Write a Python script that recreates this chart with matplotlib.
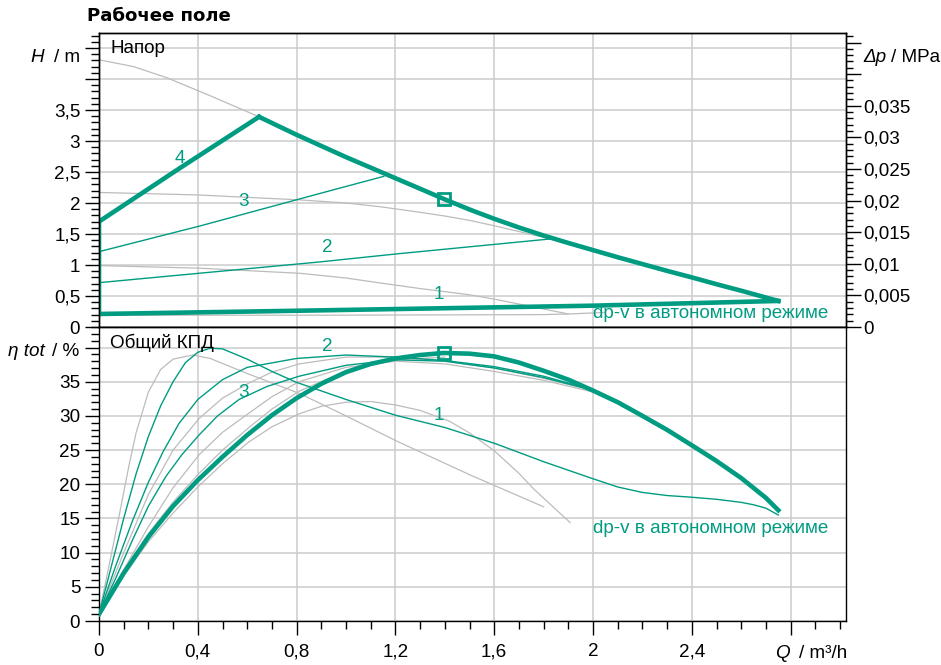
import matplotlib
matplotlib.use("Agg")
import matplotlib.pyplot as plt
from matplotlib.ticker import FixedLocator, MultipleLocator

plt.rcParams['font.family'] = ['Liberation Sans', 'DejaVu Sans']

GREEN = '#009c82'
GRAY = '#bcbcbc'
GRID = '#cccccc'
FS = 13.6

# ---- head chart (top) ----
q_max = [0, 0.14, 0.275, 0.45, 0.648, 0.8, 1.0, 1.2, 1.3, 1.396, 1.5, 1.6, 1.7, 1.8, 1.9,
         2.0, 2.1, 2.2, 2.3, 2.4, 2.5, 2.6, 2.7, 2.75]
h_max = [4.31, 4.2, 4.02, 3.73, 3.39, 3.10, 2.74, 2.40, 2.23, 2.065, 1.895, 1.745, 1.605, 1.475, 1.355,
         1.24, 1.125, 1.015, 0.905, 0.80, 0.69, 0.585, 0.475, 0.42]

q_mid = [0, 0.4, 0.814, 1.0, 1.138, 1.3, 1.4, 1.5, 1.603, 1.7, 1.826]
h_mid = [2.17, 2.13, 2.05, 2.0, 1.94, 1.85, 1.79, 1.72, 1.63, 1.54, 1.42]

q_low = [0, 0.4, 0.814, 1.0, 1.138, 1.3, 1.5, 1.6, 1.7, 1.8, 1.9]
h_low = [0.99, 0.95, 0.866, 0.79, 0.71, 0.62, 0.52, 0.45, 0.37, 0.29, 0.21]

q_min = [0, 0.9, 1.8, 1.9, 2.05]
h_min = [0.19, 0.19, 0.2, 0.21, 0.235]

q_line4 = [0, 0, 0.33, 0.648]
h_line4 = [0.21, 1.70, 2.57, 3.39]

q_line1 = [2.75, 2.0, 0.814, 0]
h_line1 = [0.42, 0.344, 0.263, 0.21]

q_line3 = [0, 0.409, 0.895, 1.153]
h_line3 = [1.215, 1.63, 2.155, 2.43]

q_line2 = [0, 0.895, 1.2, 1.826]
h_line2 = [0.715, 1.05, 1.177, 1.42]

duty_q, duty_h, duty_eta = 1.396, 2.06, 39.2

# ---- efficiency chart (bottom) ----
q_e4 = [0, 0.1, 0.2, 0.3, 0.4, 0.5, 0.6, 0.7, 0.8, 0.9, 1.0, 1.1, 1.2, 1.3, 1.394,
        1.5, 1.6, 1.7, 1.8, 1.9, 2.0, 2.1, 2.2, 2.3, 2.4, 2.5, 2.6, 2.7, 2.75]
e_e4 = [1.0, 7.0, 12.3, 16.8, 20.6, 24.0, 27.2, 30.1, 32.6, 34.7, 36.4, 37.6, 38.4, 38.9, 39.2,
        39.1, 38.7, 37.8, 36.6, 35.3, 33.7, 32.0, 30.0, 27.95, 25.7, 23.4, 20.9, 18.0, 16.2]

q_e1 = [0, 0.05, 0.1, 0.15, 0.2, 0.25, 0.3, 0.35, 0.4, 0.45, 0.5, 0.6, 0.7, 0.8, 1.0,
        1.2, 1.4, 1.6, 1.8, 2.0, 2.1, 2.2, 2.3, 2.4, 2.5, 2.6, 2.65, 2.7, 2.75]
e_e1 = [1.0, 8, 15, 21.5, 27, 31.5, 35, 37.8, 39.3, 39.9, 39.8, 38.3, 36.5, 34.9, 32.4,
        30.1, 28.3, 26.0, 23.3, 20.8, 19.6, 18.8, 18.35, 18.1, 17.8, 17.35, 17.0, 16.5, 15.5]

q_e2 = [0, 0.067, 0.135, 0.2, 0.26, 0.324, 0.4, 0.5, 0.6, 0.8, 1.0, 1.2, 1.4, 1.6, 1.8, 1.95]
e_e2 = [1.0, 8.0, 14.6, 20.3, 24.8, 28.9, 32.4, 35.3, 37.1, 38.4, 38.9, 38.6, 38.1, 37.2, 35.8, 34.3]

q_e3 = [0, 0.067, 0.135, 0.2, 0.27, 0.335, 0.405, 0.48, 0.567, 0.68, 0.81, 1.0, 1.2, 1.4, 1.6, 1.8, 1.95]
e_e3 = [1.0, 6.2, 11.8, 16.8, 21.1, 24.3, 27.2, 30.0, 32.4, 34.3, 35.8, 37.4, 38.2, 38.0, 37.0, 35.6, 34.2]

q_g1 = [0, 0.04, 0.081, 0.12, 0.15, 0.2, 0.25, 0.3, 0.38, 0.45, 0.6, 0.81, 1.0, 1.2, 1.5, 1.8]
e_g1 = [1.0, 8, 15.3, 22.5, 27.5, 33.5, 36.8, 38.3, 38.9, 38.4, 36.2, 33.3, 30.0, 26.4, 21.4, 16.7]

q_g2 = [0, 0.1, 0.2, 0.3, 0.4, 0.5, 0.607, 0.7, 0.81, 0.9, 1.0, 1.1, 1.2, 1.3, 1.42,
        1.5, 1.6, 1.7, 1.76, 1.85, 1.907]
e_g2 = [1.0, 6.6, 11.6, 15.8, 19.6, 23.0, 26.2, 28.4, 30.3, 31.4, 32.0, 32.1, 31.6, 30.8, 29.2,
        27.5, 24.9, 21.6, 19.3, 16.3, 14.4]

q_g3 = [0, 0.1, 0.2, 0.3, 0.405, 0.5, 0.607, 0.7, 0.81, 1.0, 1.2, 1.4, 1.6, 1.8, 2.0]
e_g3 = [1.0, 10, 18.5, 25, 29.6, 32.6, 34.8, 36.4, 37.6, 38.6, 38.6, 38.0, 37.0, 35.5, 33.7]

q_g4 = [0, 0.1, 0.2, 0.3, 0.405, 0.5, 0.607, 0.7, 0.81, 1.0, 1.2, 1.4, 1.6, 1.8, 2.0]
e_g4 = [1.0, 7.5, 13.8, 19.5, 24.3, 27.6, 30.4, 32.8, 35.0, 37.1, 38.0, 37.6, 36.5, 35.2, 33.5]

q_g5 = [0, 0.1, 0.2, 0.3, 0.4, 0.5, 0.607, 0.7, 0.81, 1.0, 1.2, 1.4]
e_g5 = [1.0, 7.3, 12.8, 17.4, 21.4, 25.0, 28.3, 31.0, 33.6, 36.6, 38.2, 38.6]

x_ticks = [0, 0.4, 0.8, 1.2, 1.6, 2.0, 2.4, 2.8]
x_labels = ['0', '0,4', '0,8', '1,2', '1,6', '2', '2,4', '']
h_ticks = [0, 0.5, 1, 1.5, 2, 2.5, 3, 3.5, 4, 4.5]
h_labels = ['0', '0,5', '1', '1,5', '2', '2,5', '3', '3,5', '', '']
p_ticks = [0, 0.005, 0.01, 0.015, 0.02, 0.025, 0.03, 0.035, 0.04, 0.045]
p_labels = ['0', '0,005', '0,01', '0,015', '0,02', '0,025', '0,03', '0,035', '', '']
e_ticks = [0, 5, 10, 15, 20, 25, 30, 35, 40]
e_labels = ['0', '5', '10', '15', '20', '25', '30', '35', '']

W, H = 941, 665
fig = plt.figure(figsize=(W / 100, H / 100), dpi=100)

def px(x0, y0, x1, y1):
    return [x0 / W, 1 - y1 / H, (x1 - x0) / W, (y1 - y0) / H]

ax1 = fig.add_axes(px(99, 33, 846, 327))
ax2 = fig.add_axes(px(99, 327, 846, 621))

XMAX = 3.024
HMAX = 4.742
EMAX = 43.0

for ax in (ax1, ax2):
    ax.set_xlim(0, XMAX)
    ax.set_xticks(x_ticks)
    ax.grid(True, color=GRID, lw=1.1, zorder=0)
    ax.set_axisbelow(True)
    for s in ax.spines.values():
        s.set_linewidth(1.0)
    ax.tick_params(which='major', length=10, width=1.0, labelsize=FS)
    ax.tick_params(which='minor', length=6, width=1.0)

# top panel
ax1.set_ylim(0, HMAX)
ax1.set_yticks(h_ticks)
ax1.set_yticklabels(h_labels)
ax1.yaxis.set_minor_locator(MultipleLocator(0.1))
ax1.tick_params(axis='y', which='both', direction='out', pad=3.5)
ax1.tick_params(axis='x', which='both', length=0, labelbottom=False)

ax1.plot(q_max, h_max, color=GRAY, lw=0.9, zorder=2)
ax1.plot(q_mid, h_mid, color=GRAY, lw=0.9, zorder=2)
ax1.plot(q_low, h_low, color=GRAY, lw=0.9, zorder=2)
ax1.plot(q_min, h_min, color=GRAY, lw=0.9, zorder=2)
ax1.plot(q_line3, h_line3, color=GREEN, lw=1.0, zorder=3)
ax1.plot(q_line2, h_line2, color=GREEN, lw=1.0, zorder=3)
ax1.plot(q_line4, h_line4, color=GREEN, lw=3.3, zorder=4, solid_joinstyle='miter')
ax1.plot(q_max[4:], h_max[4:], color=GREEN, lw=3.3, zorder=4)
ax1.plot(q_line1, h_line1, color=GREEN, lw=3.3, zorder=4)
ax1.plot([duty_q], [duty_h], marker='s', ms=8, mfc='none', mec=GREEN, mew=2, zorder=5)

ax1.text(0.326, 2.72, '4', color=GREEN, fontsize=FS, ha='center', va='center')
ax1.text(0.587, 2.02, '3', color=GREEN, fontsize=FS, ha='center', va='center')
ax1.text(0.923, 1.28, '2', color=GREEN, fontsize=FS, ha='center', va='center')
ax1.text(1.377, 0.52, '1', color=GREEN, fontsize=FS, ha='center', va='center')
ax1.text(2.0, 0.22, 'dp-v в автономном режиме', color=GREEN, fontsize=FS, ha='left', va='center')
ax1.text(0.045, 4.5, 'Напор', fontsize=FS, ha='left', va='center')

axr = ax1.twinx()
axr.set_ylim(0, HMAX * 0.00980665)
axr.set_yticks(p_ticks)
axr.set_yticklabels(p_labels)
axr.yaxis.set_minor_locator(MultipleLocator(0.001))
axr.tick_params(axis='y', which='major', length=10.5, width=1.0, labelsize=FS, pad=2)
axr.tick_params(axis='y', which='minor', length=5, width=1.0)
for s in axr.spines.values():
    s.set_linewidth(1.0)

# bottom panel
ax2.set_ylim(0, EMAX)
ax2.set_yticks(e_ticks)
ax2.set_yticklabels(e_labels)
ax2.yaxis.set_minor_locator(MultipleLocator(1))
ax2.set_xticklabels(x_labels)
ax2.xaxis.set_minor_locator(FixedLocator([0.1 * i for i in range(31)]))
ax2.tick_params(axis='y', which='both', direction='out', pad=3.5)
ax2.tick_params(axis='x', which='both', direction='out', pad=6)

for q, e in [(q_g1, e_g1), (q_g2, e_g2), (q_g3, e_g3), (q_g4, e_g4), (q_g5, e_g5)]:
    ax2.plot(q, e, color=GRAY, lw=0.9, zorder=2)
ax2.plot(q_e1, e_e1, color=GREEN, lw=1.0, zorder=3)
ax2.plot(q_e2, e_e2, color=GREEN, lw=1.0, zorder=3)
ax2.plot(q_e3, e_e3, color=GREEN, lw=1.0, zorder=3)
ax2.plot(q_e4, e_e4, color=GREEN, lw=3.3, zorder=4)
ax2.plot([duty_q], [duty_eta], marker='s', ms=8, mfc='none', mec=GREEN, mew=2, zorder=5)

ax2.text(0.923, 40.2, '2', color=GREEN, fontsize=FS, ha='center', va='center')
ax2.text(0.587, 33.4, '3', color=GREEN, fontsize=FS, ha='center', va='center')
ax2.text(1.377, 30.0, '1', color=GREEN, fontsize=FS, ha='center', va='center')
ax2.text(2.0, 13.6, 'dp-v в автономном режиме', color=GREEN, fontsize=FS, ha='left', va='center')
ax2.text(0.045, 40.7, 'Общий КПД', fontsize=FS, ha='left', va='center')

# axis titles
def ftext(x, y, s, size=FS, **kw):
    fig.text(x / W, 1 - y / H, s, fontsize=size, va='center', **kw)

ftext(87, 16, 'Рабочее поле', size=13.1, family='DejaVu Sans', fontweight='bold')
ftext(44, 57, 'H', ha='right', style='italic')
ftext(80, 57, '/ m', ha='right')
ftext(8, 352, 'η tot', ha='left', style='italic')
ftext(79, 352, '/ %', ha='right')
ftext(863, 58, 'Δp', ha='left', style='italic')
ftext(940, 58, '/ MPa', ha='right')
ftext(790, 653, 'Q', ha='right', style='italic')
ftext(847, 653, '/ m³/h', ha='right')

fig.savefig('out.png', dpi=100)
